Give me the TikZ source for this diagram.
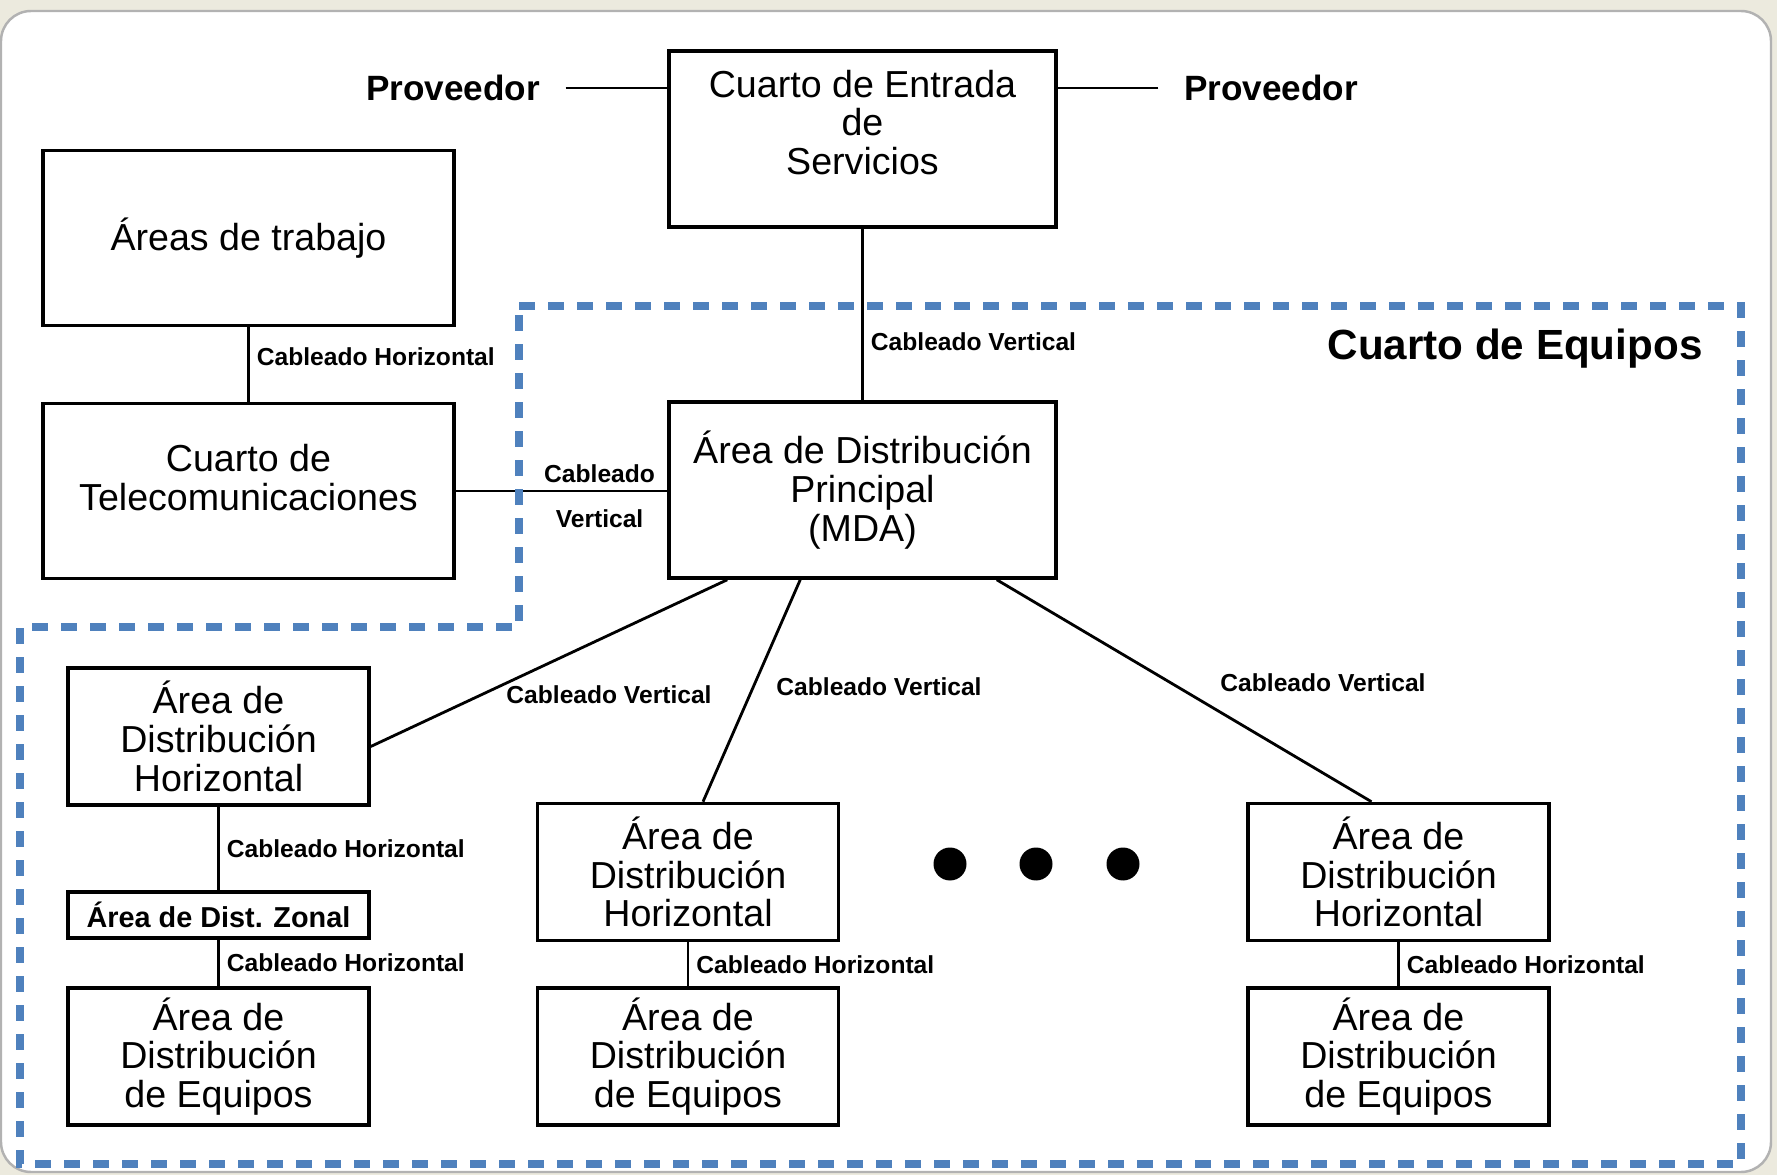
\documentclass[tikz,border=0pt]{standalone}
\usepackage{fontspec}
\setmainfont{Liberation Sans}
\definecolor{fondo}{RGB}{236,234,222}
\definecolor{azulzona}{RGB}{79,129,189}

\begin{document}
\begin{tikzpicture}[
    caja/.style={
        draw=black, rectangle, line width=1pt, fill=white,
        align=center, inner sep=0pt,
        font=\fontsize{10.7}{11}\selectfont
    },
    cajaG/.style={caja, minimum width=3.87cm, minimum height=1.76cm},
    cajaT/.style={caja, minimum width=4.11cm, minimum height=1.75cm},
    cajaD/.style={caja, minimum width=3.01cm, minimum height=1.37cm},
    cajaZ/.style={caja, minimum width=3.01cm, minimum height=0.46cm,
                  font=\fontsize{8.2}{9}\selectfont\bfseries},
    cable/.style={draw=black, line width=0.8pt},
    etiq/.style={font=\fontsize{7}{8.4}\selectfont\bfseries, inner sep=2pt},
    prov/.style={font=\fontsize{10}{12}\selectfont\bfseries, inner xsep=0.25cm},
    zona/.style={draw=azulzona, line width=2pt, dash pattern=on 0.16cm off 0.13cm}
]

% ===== fondo =====
\useasboundingbox (0,0) rectangle (17.77,-11.75);
\fill[fondo] (0,0) rectangle (17.77,-11.75);
\draw[gray!60, fill=white, line width=0.7pt, rounded corners=0.3cm] (0.01,-0.11) rectangle (17.71,-11.72);

% ===== Cajas superiores =====
\node[cajaG] (entrada) at (8.625,-1.39) {Cuarto de Entrada\\de\\Servicios\\[-0.05cm]~};
\node[cajaT] (trabajo) at (2.485,-2.38) {\'Areas de trabajo};
\node[cajaT] (telecom) at (2.485,-4.91) {Cuarto de\\Telecomunicaciones\\[-0.12cm]~};
\node[cajaG] (mda)     at (8.625,-4.90) {\'Area de Distribuci\'on\\Principal\\(MDA)};

\node[prov] (prov1) at (4.53,-0.88)  {Proveedor};
\node[prov] (prov2) at (12.71,-0.88) {Proveedor};

% ===== Distribucion horizontal =====
\node[cajaD] (adh1)  at (2.185,-7.365)  {\'Area de\\Distribuci\'on\\Horizontal};
\node[cajaZ] (zonal) at (2.185,-9.15)   {\'Area de Dist. Zonal};
\node[cajaD] (ade1)  at (2.185,-10.565) {\'Area de\\Distribuci\'on\\de Equipos};

\node[cajaD] (adh2) at (6.88,-8.72)   {\'Area de\\Distribuci\'on\\Horizontal};
\node[cajaD] (ade2) at (6.88,-10.565) {\'Area de\\Distribuci\'on\\de Equipos};

\node[cajaD] (adh3) at (13.985,-8.72)   {\'Area de\\Distribuci\'on\\Horizontal};
\node[cajaD] (ade3) at (13.985,-10.565) {\'Area de\\Distribuci\'on\\de Equipos};

% ===== Cableado =====
\draw[cable] (prov1) -- (prov1 -| entrada.west);
\draw[cable] (prov2) -- (prov2 -| entrada.east);
\draw[cable] (entrada) -- node[etiq, right, pos=0.66] {Cableado Vertical} (mda);
\draw[cable] (trabajo) -- node[etiq, right, pos=0.4] {Cableado Horizontal} (telecom);
\draw[cable] (telecom.east) -- node[etiq, above, pos=0.68] {Cableado}
    node[etiq, below=0.1cm, pos=0.68] {Vertical} (telecom.east -| mda.west);

\draw[cable] ([xshift=0.60cm]mda.south west) -- ([yshift=-0.1cm]adh1.east);
\draw[cable] ([xshift=1.33cm]mda.south west) -- ([xshift=0.15cm]adh2.north);
\draw[cable] ([xshift=-0.61cm]mda.south east) -- ([xshift=-0.27cm]adh3.north);
\node[etiq] (cv1) at (6.09,-6.95)  {Cableado Vertical};
\node[etiq] (cv2) at (8.79,-6.87)  {Cableado Vertical};
\node[etiq] (cv3) at (13.23,-6.83) {Cableado Vertical};

\draw[cable] (adh1)  -- node[etiq, right] {Cableado Horizontal} (zonal);
\draw[cable] (zonal) -- node[etiq, right] {Cableado Horizontal} (ade1);
\draw[cable] (adh2)  -- node[etiq, right] {Cableado Horizontal} (ade2);
\draw[cable] (adh3)  -- node[etiq, right] {Cableado Horizontal} (ade3);

% puntos suspensivos
\foreach \x in {9.50,10.36,11.23}
    \fill (\x,-8.64) circle (0.165);

% ===== Cuarto de Equipos =====
\draw[zona] (5.19,-3.06) -- (17.41,-3.06) -- (17.41,-11.64) -- (0.20,-11.64)
    -- (0.20,-6.27) -- (5.19,-6.27) -- cycle;
\node[font=\fontsize{12}{14}\selectfont\bfseries] (equipos) at (15.15,-3.49) {Cuarto de Equipos};

\end{tikzpicture}
\end{document}
